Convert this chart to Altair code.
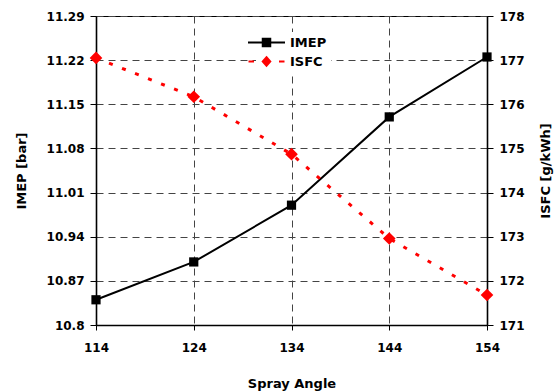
import altair as alt
import pandas as pd

# Engine test results against spray angle
spray_angle = [114, 124, 134, 144, 154]
imep_bar = [10.84, 10.90, 10.99, 11.13, 11.225]
isfc_g_kwh = [177.05, 176.17, 174.87, 172.96, 171.68]

angle_ticks = [114, 124, 134, 144, 154]
imep_ticks = [10.8, 10.87, 10.94, 11.01, 11.08, 11.15, 11.22, 11.29]
isfc_ticks = [171, 172, 173, 174, 175, 176, 177, 178]

series = ["IMEP", "ISFC"]
series_colors = ["#000000", "#ff0000"]
# legend glyphs: line segment with marker (solid for IMEP, dashed for ISFC)
series_glyphs = [
    "M-3.7,0H3.7M-0.75,-0.75H0.75V0.75H-0.75Z",
    "M-3.6,0H-2.5M2.5,0H3.6M0,-0.85L0.75,0L0,0.85L-0.75,0Z",
]

FONT = "DejaVu Sans"

df = pd.DataFrame({"angle": spray_angle, "IMEP": imep_bar, "ISFC": isfc_g_kwh})

x_enc = alt.X(
    "angle:Q",
    scale=alt.Scale(domain=[114, 154], nice=False, zero=False),
    axis=alt.Axis(
        values=angle_ticks,
        title="Spray Angle",
        grid=True,
        tickSize=5,
        labelPadding=12,
        labelFlush=False,
        titlePadding=24,
    ),
)

imep = alt.Chart(df).mark_line(
    color="#000000",
    strokeWidth=2,
    point=alt.OverlayMarkDef(shape="square", size=85, filled=True, color="#000000", opacity=1),
).encode(
    x=x_enc,
    y=alt.Y(
        "IMEP:Q",
        scale=alt.Scale(domain=[10.8, 11.29], nice=False, zero=False),
        axis=alt.Axis(
            orient="left",
            values=imep_ticks,
            format=".4~g",
            title="IMEP [bar]",
            grid=True,
            tickSize=6,
            labelPadding=6,
            labelFlush=False,
            titlePadding=18,
        ),
    ),
)

isfc = alt.Chart(df).mark_line(
    color="#ff0000",
    strokeWidth=3,
    strokeDash=[4, 10],
    point=alt.OverlayMarkDef(shape="diamond", size=160, filled=True, color="#ff0000", opacity=1),
).encode(
    x=x_enc,
    y=alt.Y(
        "ISFC:Q",
        scale=alt.Scale(domain=[171, 178], nice=False, zero=False),
        axis=alt.Axis(
            orient="right",
            values=isfc_ticks,
            title="ISFC [g/kWh]",
            titleAngle=270,
            grid=False,
            tickSize=6,
            labelPadding=6,
            labelFlush=False,
            titlePadding=28,
        ),
    ),
)

legend_def = alt.Legend(
    title=None,
    orient="none",
    legendX=160,
    legendY=16,
    fillColor="#ffffff",
    padding=4,
    symbolSize=100,
    symbolStrokeWidth=2,
    labelOffset=17,
    rowPadding=2,
    labelFont=FONT,
    labelFontSize=13,
    labelFontWeight="bold",
    labelColor="#000000",
)

legend_layer = alt.Chart(alt.Data(values=[])).mark_point(filled=True, strokeWidth=2, opacity=1).encode(
    fill=alt.Fill("s:N", scale=alt.Scale(domain=series, range=series_colors), legend=legend_def),
    stroke=alt.Stroke("s:N", scale=alt.Scale(domain=series, range=series_colors), legend=legend_def),
    shape=alt.Shape("s:N", scale=alt.Scale(domain=series, range=series_glyphs), legend=legend_def),
)

chart = (
    alt.layer(imep, isfc, legend_layer)
    .resolve_scale(y="independent")
    .properties(
        width=391,
        height=309,
        autosize=alt.AutoSizeParams(type="none"),
        padding={"left": 96, "top": 16, "right": 68, "bottom": 67},
        background="#ffffff",
    )
    .configure_view(stroke="#000000", strokeWidth=1)
    .configure_axis(
        domainColor="#000000",
        domainWidth=1.6,
        tickColor="#000000",
        tickWidth=1,
        gridColor="#444444",
        gridDash=[7, 5],
        gridWidth=1,
        labelFont=FONT,
        labelFontSize=12,
        labelFontWeight="bold",
        labelColor="#000000",
        titleFont=FONT,
        titleFontSize=13,
        titleFontWeight="bold",
        titleColor="#000000",
    )
)

chart.save("out.html", embed_options={"renderer": "svg", "actions": False})
